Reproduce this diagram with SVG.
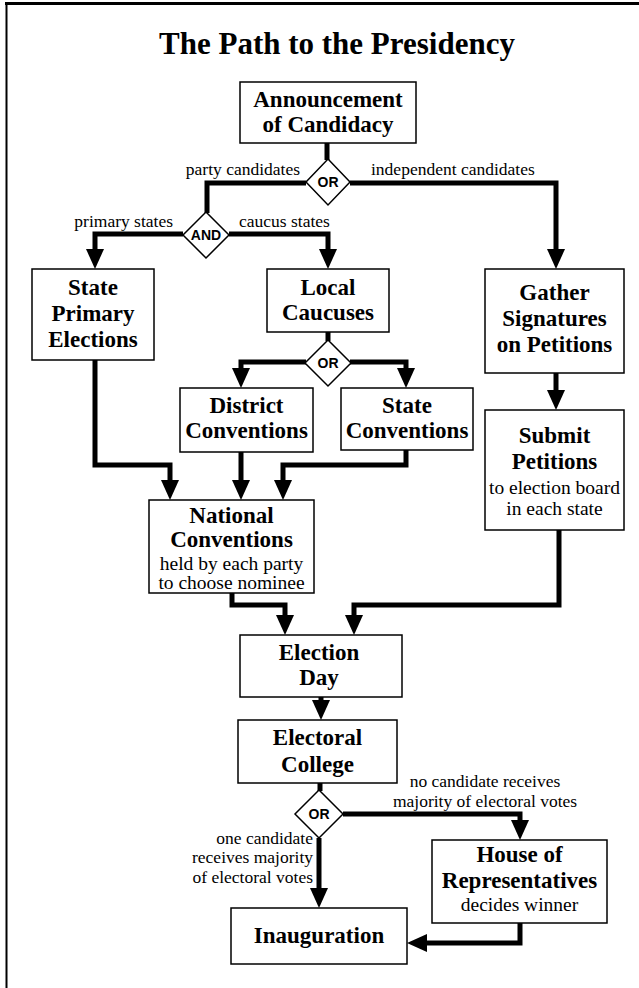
<svg xmlns="http://www.w3.org/2000/svg" width="639" height="988" viewBox="0 0 639 988">
<style>
.box{fill:#fff;stroke:#000;stroke-width:1.5}
.dia{fill:#fff;stroke:#000;stroke-width:1.5}
.b{font-family:"Liberation Serif","Times New Roman",serif;font-weight:bold;font-size:23px;text-anchor:middle;fill:#000}
.s{font-family:"Liberation Serif","Times New Roman",serif;font-size:19.5px;text-anchor:middle;fill:#000}
.l{font-family:"Liberation Serif","Times New Roman",serif;font-size:17.5px;fill:#000}
.g{font-family:"Liberation Sans",Arial,sans-serif;font-weight:bold;font-size:14px;text-anchor:middle;fill:#000}
.c{fill:none;stroke:#000;stroke-width:5;stroke-linejoin:miter}
.a{marker-end:url(#arr)}
</style>
<defs>
<marker id="arr" markerUnits="userSpaceOnUse" viewBox="0 0 20 18" markerWidth="20" markerHeight="18" refX="10" refY="9" orient="auto">
<path d="M0,0 L20,9 L0,18 Z" fill="#000"/>
</marker>
</defs>
<rect width="639" height="988" fill="#fff"/>
<g id="frame">
<line x1="5" y1="3.5" x2="639" y2="3.5" stroke="#000" stroke-width="3"/>
<line x1="6.5" y1="2" x2="6.5" y2="988" stroke="#000" stroke-width="2"/>
</g>
<text id="title" x="337" y="54" font-family="'Liberation Serif','Times New Roman',serif" font-weight="bold" font-size="31" text-anchor="middle">The Path to the Presidency</text>

<g id="connectors">
<path class="c" d="M327,143 V160"/>
<path class="c" d="M306,183 H207 V213"/>
<path class="c" d="M328,332 V341"/>
<path class="c" d="M320,783 V791"/>
<path class="c a" d="M350,183 H556 V259"/>
<path class="c a" d="M183,234 H95 V259"/>
<path class="c a" d="M229,234 H328 V259"/>
<path class="c a" d="M556,373 V400"/>
<path class="c a" d="M306,362 H241 V378"/>
<path class="c a" d="M350,362 H406 V378"/>
<path class="c a" d="M95,360 V465 H170 V490"/>
<path class="c a" d="M241,452 V490"/>
<path class="c a" d="M406,450 V465 H283 V490"/>
<path class="c a" d="M232,593 V605 H285 V625"/>
<path class="c a" d="M559,530 V605 H354 V625"/>
<path class="c a" d="M321,697 V710"/>
<path class="c a" d="M343,814 H520 V830"/>
<path class="c a" d="M319,838 V898"/>
<path class="c a" d="M520,923 V943 H417"/>
</g>

<g id="labels">
<text class="l" x="300" y="175" text-anchor="end">party candidates</text>
<text class="l" x="371" y="175">independent candidates</text>
<text class="l" x="173" y="227" text-anchor="end">primary states</text>
<text class="l" x="239" y="227">caucus states</text>
<text class="l" x="485" y="787" text-anchor="middle">no candidate receives</text>
<text class="l" x="485" y="807" text-anchor="middle">majority of electoral votes</text>
<text class="l" x="313" y="844" text-anchor="end">one candidate</text>
<text class="l" x="313" y="863" text-anchor="end">receives majority</text>
<text class="l" x="313" y="883" text-anchor="end">of electoral votes</text>
</g>

<g id="announcement">
<rect class="box" x="240" y="82" width="176" height="61"/>
<text class="b" x="328" y="107">Announcement</text>
<text class="b" x="328" y="132">of Candidacy</text>
</g>
<g id="or1">
<polygon class="dia" points="328,159 350,182 328,205 306,182"/>
<text class="g" x="328" y="187">OR</text>
</g>
<g id="and1">
<polygon class="dia" points="206,212 229,235 206,258 183,235"/>
<text class="g" x="206" y="240">AND</text>
</g>
<g id="state-primary">
<rect class="box" x="32" y="269" width="122" height="91"/>
<text class="b" x="93" y="295">State</text>
<text class="b" x="93" y="321">Primary</text>
<text class="b" x="93" y="347">Elections</text>
</g>
<g id="local-caucuses">
<rect class="box" x="267" y="269" width="122" height="63"/>
<text class="b" x="328" y="295">Local</text>
<text class="b" x="328" y="320">Caucuses</text>
</g>
<g id="gather">
<rect class="box" x="485" y="269" width="139" height="104"/>
<text class="b" x="554.5" y="300">Gather</text>
<text class="b" x="554.5" y="326">Signatures</text>
<text class="b" x="554.5" y="352">on Petitions</text>
</g>
<g id="or2">
<polygon class="dia" points="328,340 351,363 328,386 305,363"/>
<text class="g" x="328" y="368">OR</text>
</g>
<g id="district">
<rect class="box" x="180" y="388" width="133" height="64"/>
<text class="b" x="246.5" y="413">District</text>
<text class="b" x="246.5" y="438">Conventions</text>
</g>
<g id="state-conventions">
<rect class="box" x="341" y="388" width="132" height="62"/>
<text class="b" x="407" y="413">State</text>
<text class="b" x="407" y="438">Conventions</text>
</g>
<g id="submit">
<rect class="box" x="485" y="410" width="139" height="120"/>
<text class="b" x="554.5" y="443">Submit</text>
<text class="b" x="554.5" y="469">Petitions</text>
<text class="s" x="554.5" y="494">to election board</text>
<text class="s" x="554.5" y="515">in each state</text>
</g>
<g id="national">
<rect class="box" x="149" y="500" width="165" height="93"/>
<text class="b" x="231.5" y="523">National</text>
<text class="b" x="231.5" y="547">Conventions</text>
<text class="s" x="231.5" y="570">held by each party</text>
<text class="s" x="231.5" y="589">to choose nominee</text>
</g>
<g id="election-day">
<rect class="box" x="240" y="635" width="162" height="62"/>
<text class="b" x="319" y="660">Election</text>
<text class="b" x="319" y="685">Day</text>
</g>
<g id="electoral-college">
<rect class="box" x="238" y="720" width="159" height="63"/>
<text class="b" x="317.5" y="745">Electoral</text>
<text class="b" x="317.5" y="772">College</text>
</g>
<g id="or3">
<polygon class="dia" points="319,790 343,814 319,838 295,814"/>
<text class="g" x="319" y="819">OR</text>
</g>
<g id="house">
<rect class="box" x="432" y="840" width="175" height="83"/>
<text class="b" x="519.5" y="862">House of</text>
<text class="b" x="519.5" y="888">Representatives</text>
<text class="s" x="519.5" y="911">decides winner</text>
</g>
<g id="inauguration">
<rect class="box" x="231" y="908" width="176" height="56"/>
<text class="b" x="319" y="943">Inauguration</text>
</g>
</svg>
